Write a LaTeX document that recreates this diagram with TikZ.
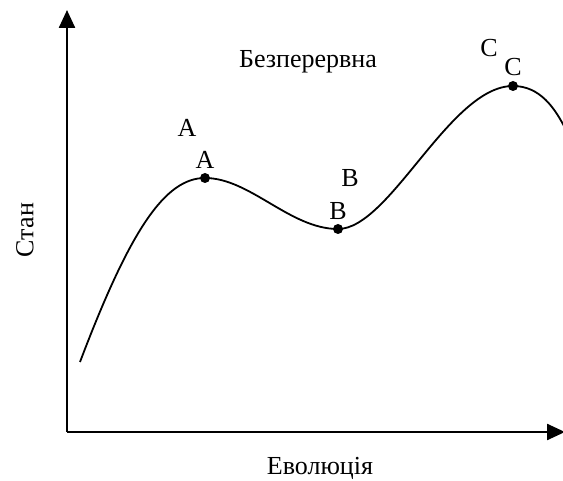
\documentclass[tikz,border=0pt]{standalone}
\usepackage{fontspec}
\setmainfont{Liberation Serif}
\usetikzlibrary{arrows.meta}
\begin{document}
\begin{tikzpicture}[x=1pt,y=-1pt,
  axis/.style={line width=2.4pt,-{Triangle[length=18pt,width=16pt]}},
  curve/.style={line width=1.8pt},
  dot/.style={circle,fill=black,inner sep=0pt,minimum size=10pt},
  lbl/.style={font=\fontsize{26}{30}\selectfont,inner sep=0pt}]
\useasboundingbox (0,0) rectangle (563,481);
\clip (0,0) rectangle (563,481);
\coordinate (O) at (67,432);
\coordinate (ytip) at (67,10);
\coordinate (xtip) at (565,432);
\draw[axis] (O) -- (ytip);
\draw[axis] (O) -- (xtip);
\coordinate (s) at (80,362);
\coordinate (e) at (566,130);
\node[dot] (A) at (205,178) {};
\node[dot] (B) at (338,229) {};
\node[dot] (C) at (513,86) {};
\draw[curve] (s) .. controls (130,230) and (165,178) .. (A.center)
  .. controls (250,178) and (290,229) .. (B.center)
  .. controls (390,229) and (450,86) .. (C.center)
  .. controls (540,86) and (555,108) .. (e);
\node[lbl] (la1) at (187,128) {A};
\node[lbl] (la2) at (205,160) {A};
\node[lbl] (lb1) at (350,178) {B};
\node[lbl] (lb2) at (338,211) {B};
\node[lbl] (lc1) at (489,48) {C};
\node[lbl] (lc2) at (513,67) {C};
\node[lbl] (t) at (308,62) {Безперервна};
\node[lbl,rotate=90] (ylab) at (25,230) {Стан};
\node[lbl] (xlab) at (320,468) {Еволюція};
\end{tikzpicture}
\end{document}
